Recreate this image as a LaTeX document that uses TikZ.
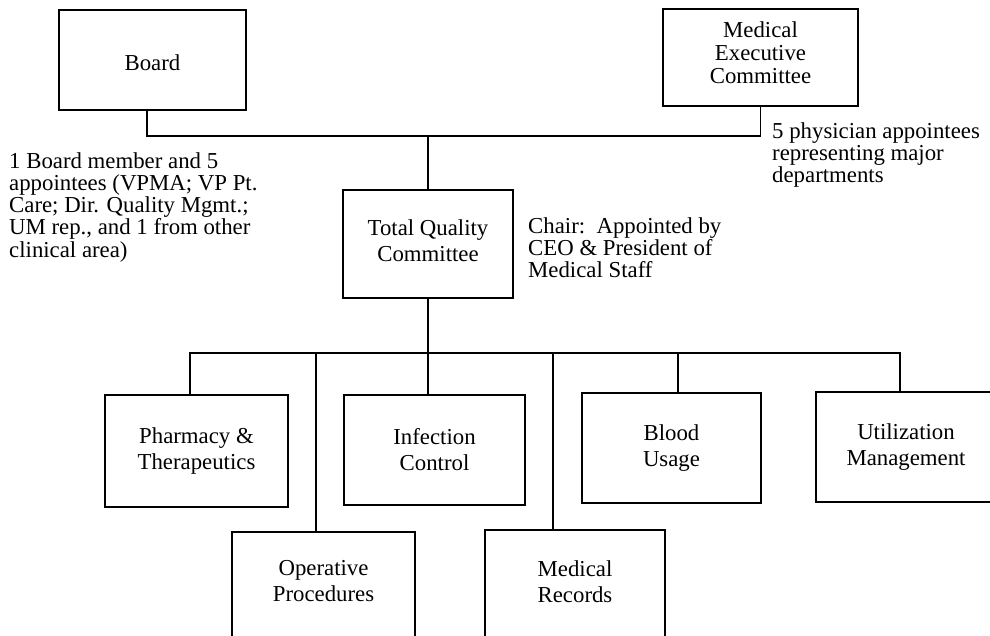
\documentclass[tikz,border=0pt]{standalone}
\usepackage{fontspec}
\setmainfont{Liberation Serif}
\begin{document}
\begin{tikzpicture}[x=1pt,y=-1pt,
  box/.style={draw,line width=1.8pt,rectangle,inner sep=0pt,align=center,
    font=\fontsize{22.8}{26}\selectfont},
  boxtext/.style={inner sep=0pt,align=center,font=\fontsize{22.8}{26}\selectfont},
  note/.style={inner sep=0pt,align=left,anchor=north west,
    font=\fontsize{22.8}{22.3}\selectfont},
  conn/.style={line width=1.8pt}]
\useasboundingbox (0,0) rectangle (990,636);
\clip (0,0) rectangle (990,636);
\fill[white] (0,0) rectangle (990,636);

\node[box,minimum width=187pt,minimum height=100pt] (board) at (152.5,60) {};
\node[boxtext] (boardtext) at ([yshift=-3pt]board.center) {Board};
\node[box,minimum width=195pt,minimum height=97pt] (mec) at (760.5,57.5) {};
\node[boxtext,font=\fontsize{22.8}{23}\selectfont] (mectext) at ([yshift=5pt]mec.center) {Medical\\Executive\\Committee};
\node[box,minimum width=170pt,minimum height=108pt] (tqc) at (428,244) {};
\node[boxtext] (tqctext) at ([yshift=3pt]tqc.center) {Total Quality\\Committee};

\node[box,minimum width=183pt,minimum height=112pt] (pharm) at (196.5,451) {Pharmacy \&\\Therapeutics};
\node[box,minimum width=181pt,minimum height=110pt] (infect) at (434.5,450) {Infection\\Control};
\node[box,minimum width=179pt,minimum height=110pt] (blood) at (671.5,448) {Blood\\Usage};
\node[box,minimum width=180pt,minimum height=110pt] (util) at (906,447) {Utilization\\Management};
\node[box,minimum width=183pt,minimum height=108pt] (oper) at (323.5,586) {};
\node[boxtext] (opertext) at ([yshift=4.5pt]oper.center) {Operative\\Procedures};
\node[box,minimum width=180pt,minimum height=110pt] (medrec) at (575,585) {};
\node[boxtext] (medrectext) at ([yshift=3.5pt]medrec.center) {Medical\\Records};

\coordinate (topbus) at (428,136);
\coordinate (bus) at (428,353);

\draw[conn] ([xshift=-5.5pt]board.south) |- (topbus) -| (mec.south);
\draw[conn] (topbus) -- (tqc.north);
\draw[conn] (tqc.south) -- (bus);
\draw[conn] ([xshift=-6.5pt]pharm.north) |- (bus) -| ([xshift=-6pt]util.north);
\draw[conn] ([xshift=-7.5pt]oper.north) |- (bus);
\draw[conn] ([xshift=-6.5pt]infect.north) |- (bus);
\draw[conn] ([xshift=6.5pt]blood.north) |- (bus);
\draw[conn] ([xshift=-22pt]medrec.north) |- (bus);

\node[note] (leftnote) at (9,152) {1 Board member and 5\\appointees (VPMA; VP Pt.\\Care; Dir. Quality Mgmt.;\\UM rep., and 1 from other\\clinical area)};
\node[note] (rightnote) at (772,122) {5 physician appointees\\representing major\\departments};
\node[note] (chairnote) at (528,217) {Chair:\ \ Appointed by\\CEO \& President of\\Medical Staff};
\end{tikzpicture}
\end{document}
